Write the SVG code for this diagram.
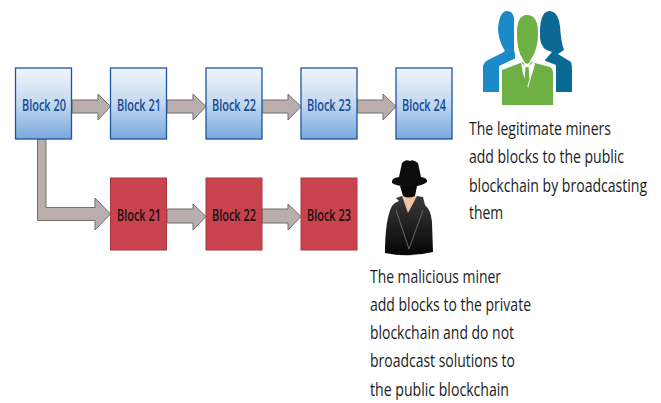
<svg xmlns="http://www.w3.org/2000/svg" width="661" height="403" viewBox="0 0 661 403">
<style>
text{font-family:"Open Sans","Liberation Sans",sans-serif}
.b{fill:url(#bg);stroke:#1c56a0;stroke-width:1.3}
.r{fill:#c8434e;stroke:#a83842;stroke-width:1}
.bl{font-size:16px;font-weight:600;text-anchor:middle;fill:#164a92}
.rl{font-size:16px;font-weight:600;text-anchor:middle;fill:#1a1012}
.t{font-size:18px;fill:#1c1c1c}
.a{fill:#b9aeab;stroke:#6f6f6b;stroke-width:1}
</style>
<defs>
<linearGradient id="bg" x1="0" y1="0" x2="0" y2="1"><stop offset="0" stop-color="#f2f6fc"/><stop offset="0.5" stop-color="#c3d8f0"/><stop offset="1" stop-color="#7aa8dc"/></linearGradient>
<linearGradient id="coat" x1="0" y1="0" x2="0" y2="1"><stop offset="0" stop-color="#3a3a3a"/><stop offset="1" stop-color="#050505"/></linearGradient>
</defs>
<rect width="661" height="403" fill="#fff"/>
<g id="connectors">
<path class="a" d="M72 100H98V94L110.500 106.500L98 120V113H72Z"/>
<path class="a" d="M167 100H193V94L206 106.500L193 120V113H167Z"/>
<path class="a" d="M262 100H288V94L301 106.500L288 120V113H262Z"/>
<path class="a" d="M357 100H383V94L396 106.500L383 120V113H357Z"/>
<path class="a" d="M167 209H193V204L206 216.500L193 230V223H167Z"/>
<path class="a" d="M262 209H288V204L301 216.500L288 230V223H262Z"/>
<path class="a" d="M37.500 139H46V207.500H95V198L110.500 214L95 230V220.500H37.500Z"/>
</g>
<g id="block20-top"><rect class="b" x="15.500" y="68" width="56" height="71"/><text class="bl" x="44" y="110.500" textLength="44" lengthAdjust="spacingAndGlyphs">Block 20</text></g>
<g id="block21-top"><rect class="b" x="110.500" y="68" width="56" height="71"/><text class="bl" x="139" y="110.500" textLength="44" lengthAdjust="spacingAndGlyphs">Block 21</text></g>
<g id="block22-top"><rect class="b" x="206" y="68" width="56" height="71"/><text class="bl" x="234" y="110.500" textLength="44" lengthAdjust="spacingAndGlyphs">Block 22</text></g>
<g id="block23-top"><rect class="b" x="301" y="68" width="56" height="71"/><text class="bl" x="329" y="110.500" textLength="44" lengthAdjust="spacingAndGlyphs">Block 23</text></g>
<g id="block24-top"><rect class="b" x="396" y="68" width="56" height="71"/><text class="bl" x="424" y="110.500" textLength="44" lengthAdjust="spacingAndGlyphs">Block 24</text></g>
<g id="block21-red"><rect class="r" x="110.500" y="178" width="56" height="72"/><text class="rl" x="139" y="221" textLength="44" lengthAdjust="spacingAndGlyphs">Block 21</text></g>
<g id="block22-red"><rect class="r" x="206" y="178" width="56" height="72"/><text class="rl" x="234" y="221" textLength="44" lengthAdjust="spacingAndGlyphs">Block 22</text></g>
<g id="block23-red"><rect class="r" x="301" y="178" width="56" height="72"/><text class="rl" x="329" y="221" textLength="44" lengthAdjust="spacingAndGlyphs">Block 23</text></g>
<g id="legitimate-miners">
<path fill="#1b8ac9" d="M483 92V66Q484 62 488 60L502 53L505 51Q499 42 498 30Q499 11 507 11Q515 11 515 26L515 92Z"/>
<path fill="#0b6a94" d="M545 92V60L552 52Q541 50 540 38Q539 12 549 11Q558 11 560 26Q561 42 564 50L558 54L571 62Q572 65 572 70V92Z"/>
<path fill="#1b8ac9" d="M505 51L508 56L512 52L511 58L508 62L505 58Z"/>
<path fill="#fff" d="M514 12H540V50L538 58L556 65L556 108H499V66L516 58L514 50Z"/>
<path fill="#6eb043" d="M502 105V70L523 62L527 70L531 62L550 67Q553 69 553 73V105Z"/>
<path fill="#fff" d="M521 62L527 68L533 62L535 64L528 88L523 74Z"/>
<path fill="#6eb043" d="M525.500 67H528.500L529.500 80L527 87L524.500 80Z"/>
<path fill="#6eb043" d="M527 15Q538 15 538 33Q538 45 534 54L529 63Q527 64.500 525 63L520 54Q517 45 517 33Q517 15 527 15Z"/>
</g>
<g id="malicious-miner">
<path fill="url(#coat)" d="M385 253Q385 222 391 208Q393 203 399 201L396 198L402 196H417L423 197L425 205Q431 210 432 222L433 252Q409 258 385 253Z"/>
<path fill="#efc4a4" d="M402 196H417L408 213Z"/>
<path fill="#0a0a0a" d="M400 186L417 186L415 196Q409 199 403 196Z"/>
<path fill="#0d0d0d" d="M392 183Q399 187 410 186Q421 187 427 182Q428 178 421 177L418 163Q413 159 410 161Q405 159 402 163L399 177Q391 178 392 183Z"/>
<path fill="none" stroke="#888" stroke-width="0.7" d="M396 210L409 249L423 210"/>
</g>
<g id="legitimate-text" transform="translate(469 0) scale(.8 1)">
<text class="t" x="0" y="135" textLength="177.500" lengthAdjust="spacingAndGlyphs">The legitimate miners</text>
<text class="t" x="0" y="163" textLength="193.750" lengthAdjust="spacingAndGlyphs">add blocks to the public</text>
<text class="t" x="0" y="192" textLength="222.500" lengthAdjust="spacingAndGlyphs">blockchain by broadcasting</text>
<text class="t" x="0" y="219" textLength="42.500" lengthAdjust="spacingAndGlyphs">them</text>
</g>
<g id="malicious-text" transform="translate(370 0) scale(.8 1)">
<text class="t" x="0" y="283" textLength="163.750" lengthAdjust="spacingAndGlyphs">The malicious miner</text>
<text class="t" x="0" y="311" textLength="201.250" lengthAdjust="spacingAndGlyphs">add blocks to the private</text>
<text class="t" x="0" y="339" textLength="180" lengthAdjust="spacingAndGlyphs">blockchain and do not</text>
<text class="t" x="0" y="367" textLength="181.250" lengthAdjust="spacingAndGlyphs">broadcast solutions to</text>
<text class="t" x="0" y="396" textLength="173.750" lengthAdjust="spacingAndGlyphs">the public blockchain</text>
</g>
</svg>
